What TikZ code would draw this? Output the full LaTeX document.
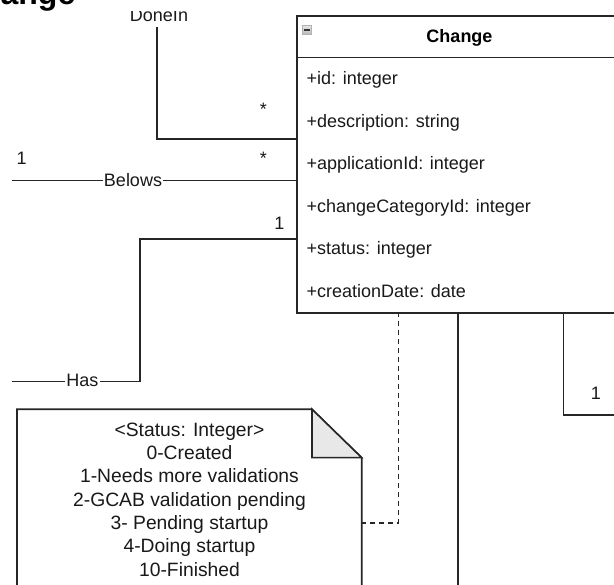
\documentclass[tikz,border=0pt]{standalone}
\usepackage{fontspec}
\setmainfont{Liberation Sans}
\begin{document}
\begin{tikzpicture}[x=1pt,y=-1pt,
  line/.style={draw=black!85, line width=1.6pt},
  dashline/.style={line, dash pattern=on 5pt off 4pt},
  txt/.style={font=\fontsize{18}{21}\selectfont, inner sep=0pt, text=black!90},
  lbl/.style={txt, anchor=base},
  onedge/.style={txt, anchor=base, fill=white, inner xsep=1pt, inner ysep=1.5pt},
  attr/.style={txt, anchor=base west},
  notetxt/.style={font=\fontsize{19.3}{23.3}\selectfont, inner sep=0pt, anchor=base, text=black!90}]

\useasboundingbox (0,0) rectangle (614,585);
\clip (0,0) rectangle (614,585);
\fill[white] (0,0) rectangle (614,585);

% heading of the sheet, partly outside the frame
\node[font=\fontsize{32}{36}\selectfont\bfseries, inner sep=0pt, anchor=base east] (title) at (75.5,4.2) {Change};

% class box
\node[line, fill=white, minimum width=328pt, minimum height=297.5pt, anchor=north west, inner sep=0pt] (change) at (296,15) {};
\draw[line] (change.west |- 0,57.5) -- (change.east |- 0,57.5);
\node[font=\fontsize{18}{21}\selectfont\bfseries, inner sep=0pt, anchor=base] (cname) at (459.5,43) {Change};
% collapse icon
\node[draw=gray!60, line width=0.8pt, top color=gray!20, bottom color=gray!55, minimum width=9pt, minimum height=9pt, inner sep=0pt] (collapse) at (307,30) {};
\draw[black!80, line width=1.6pt] ([xshift=1.8pt]collapse.west) -- ([xshift=-1.8pt]collapse.east);

% attributes
\node[attr] (a1) at (306.5,85)    {+id: integer};
\node[attr] (a2) at (306.5,127.5) {+description: string};
\node[attr] (a3) at (306.5,170)   {+applicationId: integer};
\node[attr] (a4) at (306.5,212.5) {+changeCategoryId: integer};
\node[attr] (a5) at (306.5,255)   {+status: integer};
\node[attr] (a6) at (306.5,297.5) {+creationDate: date};

% note with folded corner
\node[minimum width=344.7pt, minimum height=200pt, anchor=north west, inner sep=0pt] (note) at (17,409.3) {};
\draw[line, fill=white] (note.north west) -- (312,409.3) -- (361.7,457.7) -- (361.7,620) -- (17,620) -- cycle;
\draw[line, fill=gray!18] (312,409.3) -- (312,457.7) -- (361.7,457.7) -- cycle;
\foreach \t [count=\i from 0] in {<Status: Integer>, 0-Created, 1-Needs more validations,
  2-GCAB validation pending, 3- Pending startup, 4-Doing startup, 10-Finished}
  \node[notetxt] (n\i) at (189.5,436.3+\i*23.3) {\t};

% free ends of the associations
\coordinate (doneinEnd) at (156.7,27.3);
\coordinate (belowsEnd) at (12.3,180.7);
\coordinate (hasEnd) at (12.3,381.7);
\coordinate (downEnd) at (457.7,600);
\coordinate (rightEnd) at (620,415);

% DoneIn
\draw[line] (doneinEnd) |- (change.west |- 0,139.3);
\begin{scope}
  \clip (100,12) rectangle (220,40);
  \node[lbl] (ldonein) at (159,21.7) {DoneIn};
\end{scope}
\node[lbl] (m1) at (263.3,115.3) {*};

% Belows
\draw[line] (belowsEnd) -- (change.west |- belowsEnd);
\node[onedge] (lbelows) at (133,186.7) {Belows};
\node[lbl] (m2) at (21.7,164.4) {1};
\node[lbl] (m3) at (263.3,164.3) {*};

% Has
\draw[line] (change.west |- 0,239.3) -| (140,381.7) -- (hasEnd);
\node[onedge] (lhas) at (82.5,386.5) {Has};
\node[lbl] (m4) at (279.3,229.7) {1};

% note link
\draw[dashline] (398.5,312.5) -- (398.5,523) -- (note.east |- 0,523);

% lower links
\draw[line] (change.south -| downEnd) -- (downEnd);
\draw[line] (change.south -| 563.5,0) |- (rightEnd);
\node[lbl] (m5) at (596,399.4) {1};
\end{tikzpicture}
\end{document}
